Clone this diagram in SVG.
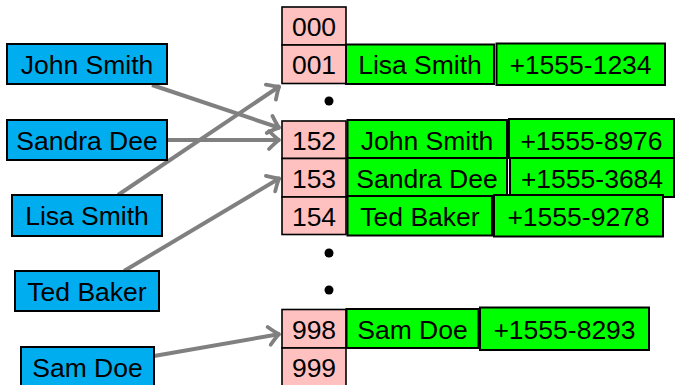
<svg xmlns="http://www.w3.org/2000/svg" width="676" height="385" viewBox="0 0 676 385">
<style>
text{font-family:"Liberation Sans",Arial,sans-serif;font-size:26.5px;fill:#000;text-anchor:middle}
.b rect{fill:#00aeef;stroke:#000;stroke-width:2}
.p rect{fill:#ffc0c0;stroke:#000;stroke-width:1.6}
.g rect{fill:#00ff00;stroke:#000;stroke-width:2}
.c path{fill:none;stroke:#808080;stroke-width:4;marker-end:url(#ah)}
</style>
<defs>
<marker id="ah" markerUnits="userSpaceOnUse" markerWidth="20" markerHeight="24" refX="1" refY="0" viewBox="-14 -12 20 24" orient="auto" overflow="visible">
<path d="M-10,-9 Q-3,-2 0,0 Q-3,2 -10,9" fill="none" stroke="#808080" stroke-width="3.8" stroke-linecap="round" stroke-linejoin="round"/>
</marker>
</defs>
<g class="c" id="connectors">
<path d="M152,85 L280,128"/>
<path d="M167,140 L280,140"/>
<path d="M118,195 L280,86"/>
<path d="M124,271 L280,178"/>
<path d="M154,356 L280,334"/>
</g>
<g class="b">
<g id="k-john"><rect x="7" y="44" width="160" height="40"/><text x="87" y="74">John Smith</text></g>
<g id="k-sandra"><rect x="7" y="120" width="160" height="40"/><text x="87" y="150">Sandra Dee</text></g>
<g id="k-lisa"><rect x="12" y="195" width="150" height="41"/><text x="87" y="225">Lisa Smith</text></g>
<g id="k-ted"><rect x="15" y="271" width="144" height="40"/><text x="87" y="301">Ted Baker</text></g>
<g id="k-sam"><rect x="21" y="347" width="133" height="42"/><text x="87.5" y="377">Sam Doe</text></g>
</g>
<g class="p">
<g id="h000"><rect x="282" y="7" width="64" height="38"/><text x="314" y="36">000</text></g>
<g id="h001"><rect x="282" y="45" width="64" height="38.5"/><text x="314" y="74">001</text></g>
<g id="h152"><rect x="282" y="121" width="64" height="37.5"/><text x="314" y="149.5">152</text></g>
<g id="h153"><rect x="282" y="158.5" width="64" height="38.5"/><text x="314" y="187.5">153</text></g>
<g id="h154"><rect x="282" y="197" width="64" height="37.5"/><text x="314" y="225.5">154</text></g>
<g id="h998"><rect x="282" y="309.5" width="64" height="38.5"/><text x="314" y="338.5">998</text></g>
<g id="h999"><rect x="282" y="348" width="64" height="40"/><text x="314" y="377">999</text></g>
</g>
<g id="dots">
<circle cx="329" cy="101" r="4.5"/>
<circle cx="329" cy="253" r="4.5"/>
<circle cx="329" cy="290" r="4.5"/>
</g>
<g class="g">
<g id="n001"><rect x="346" y="44.5" width="148" height="39.5"/><text x="420" y="74">Lisa Smith</text></g>
<g id="t001"><rect x="496.5" y="43.5" width="168.5" height="41.5"/><text x="580.5" y="74">+1555-1234</text></g>
<g id="n152"><rect x="347.5" y="120" width="159.5" height="38"/><text x="427" y="149.5">John Smith</text></g>
<g id="t152"><rect x="509" y="119" width="165" height="39"/><text x="591.5" y="149.5">+1555-8976</text></g>
<g id="n153"><rect x="347.5" y="158" width="159.5" height="38.5"/><text x="427" y="187.5">Sandra Dee</text></g>
<g id="t153"><rect x="510" y="158" width="164" height="39"/><text x="592" y="187.5">+1555-3684</text></g>
<g id="n154"><rect x="347.5" y="196" width="144.5" height="39.5"/><text x="420" y="225.5">Ted Baker</text></g>
<g id="t154"><rect x="494" y="195" width="169" height="41.5"/><text x="578.5" y="225.5">+1555-9278</text></g>
<g id="n998"><rect x="346.5" y="309" width="132" height="39"/><text x="412.5" y="338.5">Sam Doe</text></g>
<g id="t998"><rect x="480" y="307.5" width="169" height="42.5"/><text x="564.5" y="338.5">+1555-8293</text></g>
</g>
</svg>
